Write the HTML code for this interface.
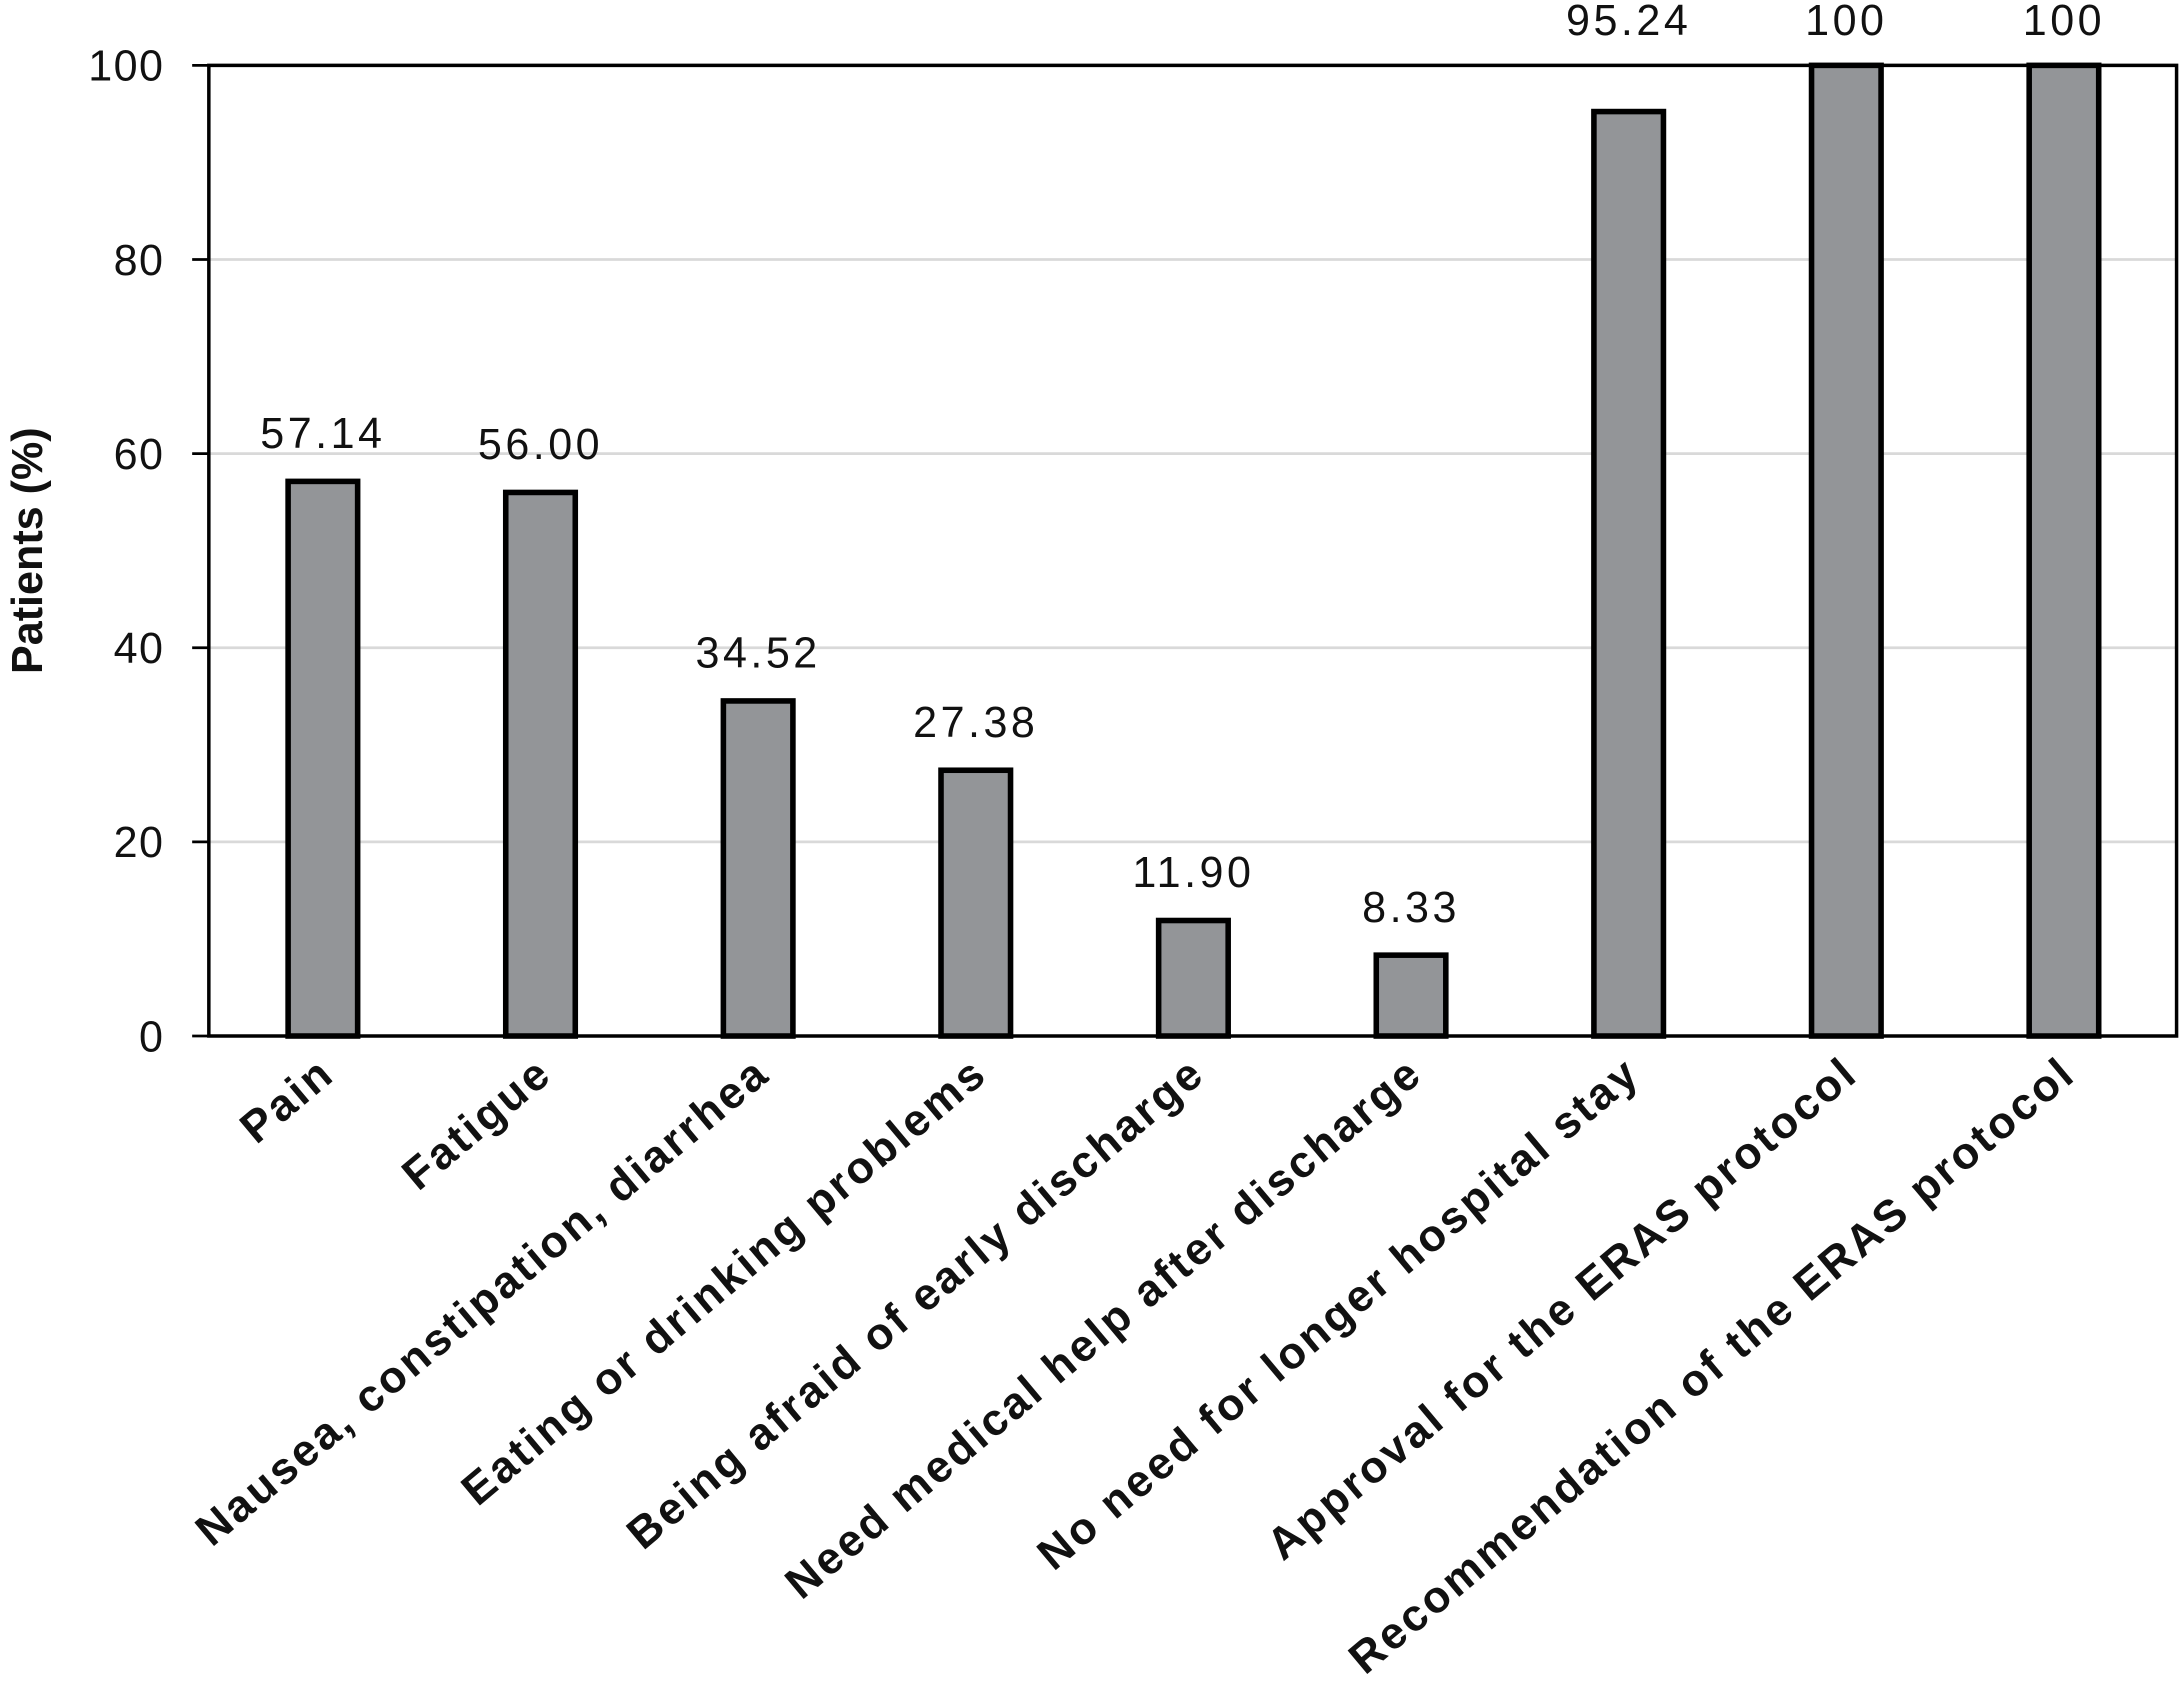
<!DOCTYPE html>
<html><head><meta charset="utf-8"><style>
html,body{margin:0;padding:0;background:#fff;}
svg{display:block;font-family:"Liberation Sans",sans-serif;}
</style></head><body>
<svg id="chart" width="2181" height="1691" viewBox="0 0 1568 1216" xmlns="http://www.w3.org/2000/svg">
<rect width="1568" height="1216" fill="#fff"/>
<g id="grid"></g>
<g id="bars"></g>
<g id="axes"></g>
<text transform="translate(30,396) rotate(-90)" text-anchor="middle" font-size="31" font-weight="bold" fill="#111">Patients (%)</text>
</svg>
<script>
const categories = ["Pain","Fatigue","Nausea, constipation, diarrhea","Eating or drinking problems","Being afraid of early discharge","Need medical help after discharge","No need for longer hospital stay","Approval for the ERAS protocol","Recommendation of the ERAS protocol"];
const values = [57.14,56.00,34.52,27.38,11.90,8.33,95.24,100,100];
const valueLabels = ["57.14","56.00","34.52","27.38","11.90","8.33","95.24","100","100"];
const yTicks = [0,20,40,60,80,100];

const NS="http://www.w3.org/2000/svg";
const plotLeft=150,plotRight=1565,plotTop=47,plotBottom=745;
const yScale=v=>plotBottom-(v/100)*(plotBottom-plotTop);
const x0=232,step=156.5,bw=50;
const xScale=i=>x0+i*step;
function mk(tag,attrs,parent){const e=document.createElementNS(NS,tag);for(const k in attrs)e.setAttribute(k,attrs[k]);parent.appendChild(e);return e;}
const grid=document.getElementById('grid'),bars=document.getElementById('bars'),axes=document.getElementById('axes');
yTicks.forEach(t=>{
  if(t>0&&t<100){const l=mk('line',{x1:plotLeft,x2:plotRight,y1:yScale(t),y2:yScale(t),stroke:'#d9d9d9','stroke-width':2},grid);
  
  }
  const tk=mk('line',{x1:plotLeft-12,x2:plotLeft,y1:yScale(t),y2:yScale(t),stroke:'#000','stroke-width':2},axes);
  
  
  const tx=mk('text',{x:118,y:yScale(t)+11,'text-anchor':'end','font-size':31,'letter-spacing':1,fill:'#111'},axes);
  tx.textContent=t;
  
  
});
values.forEach((v,i)=>{
  const r=mk('rect',{x:xScale(i)-bw/2,y:yScale(v),width:bw,height:plotBottom-yScale(v),fill:'#939598',stroke:'#000','stroke-width':4},bars);
  
  
  const ly = v>=90 ? 25 : yScale(v)-24;
  const t=mk('text',{x:xScale(i),y:ly,'text-anchor':'middle','font-size':31,'letter-spacing':2.5,fill:'#111'},bars);
  t.textContent=valueLabels[i];
  
  
  const c=mk('text',{transform:`translate(${xScale(i)+10},775) rotate(-40)`,'text-anchor':'end','font-size':32,'font-weight':'bold','letter-spacing':2,fill:'#111'},axes);
  c.textContent=categories[i];
  
  
});
const frame=mk('path',{d:`M${plotLeft},${plotTop} H${plotRight} V${plotBottom} H${plotLeft} Z`,fill:'none',stroke:'#000','stroke-width':2.5},axes);


</script>
</body></html>
